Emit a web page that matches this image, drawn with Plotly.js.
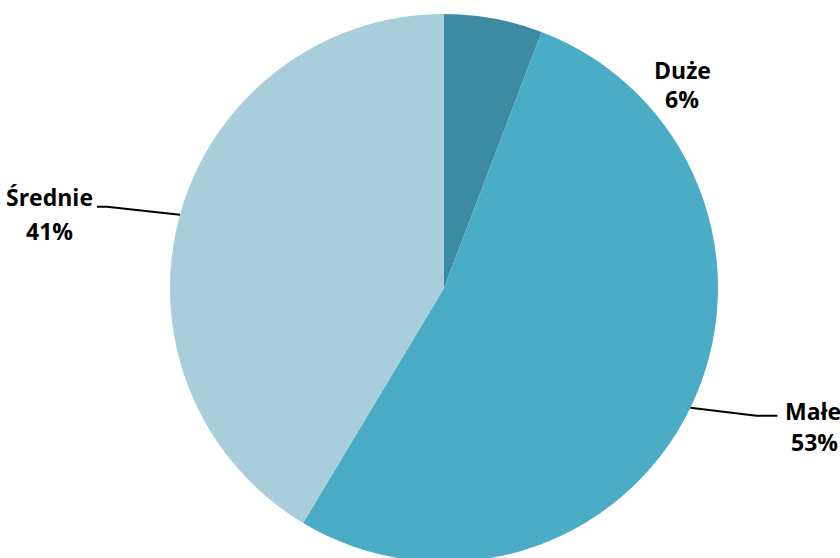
<!DOCTYPE html>
<html><head><meta charset="utf-8">
<script src="https://cdn.plot.ly/plotly-3.0.1.min.js"></script>
<style>html,body{margin:0;padding:0;overflow:hidden;background:#fff}#chart{width:840px;height:562px}</style>
</head><body><div id="chart"></div>
<script>
const labels = ["Duże", "Małe", "Średnie"];
const values = [5.8, 52.8, 41.4];
const colors = ["#3d8ba2", "#4aacc5", "#a8cedc"];

const W = 840, H = 562;
const M = {l: 170, r: 122, t: 14, b: 0};
const pw = W - M.l - M.r, ph = H - M.t - M.b;
const cx = M.l + pw / 2, cy = M.t + ph / 2, R = Math.min(pw, ph) / 2;
const toX = px => (px - M.l) / pw;
const toY = py => 1 - (py - M.t) / ph;

const total = values.reduce((a, b) => a + b, 0);
let cum = 0;
const mids = values.map(v => { const m = (cum + v / 2) / total; cum += v; return m * 2 * Math.PI; });
const pt = (a, r) => [cx + r * Math.sin(a), cy - r * Math.cos(a)];

// label placement offsets relative to slice edge point (layout only)
const labelPos = [
  {nx: 188.5, ny: 51.5, px: 188.5, py: 80, line: null},
  {nx: 123, ny: 3.5, px: 124, py: 34, line: {ex: 66, ey: 8, hx: 87}},
  {nx: -130, ny: -18, px: -130, py: 16.5, line: {ex: -73, ey: -8, hx: -83}}
];
const font = {family: "'Open Sans', sans-serif", size: 23, color: "#000"};

const annotations = [], shapes = [];
values.forEach((v, i) => {
  const [x0, y0] = pt(mids[i], R);
  const p = labelPos[i];
  const pct = Math.round(v / total * 100) + "%";
  annotations.push({xref: "paper", yref: "paper", x: toX(x0 + p.nx), y: toY(y0 + p.ny),
    text: "<b>" + labels[i] + "</b>", showarrow: false, xanchor: "center", yanchor: "middle", font: font});
  annotations.push({xref: "paper", yref: "paper", x: toX(x0 + p.px), y: toY(y0 + p.py),
    text: "<b>" + pct + "</b>", showarrow: false, xanchor: "center", yanchor: "middle", font: font});
  if (p.line) {
    const L = p.line;
    const path = "M" + toX(x0) + "," + toY(y0) + " L" + toX(x0 + L.ex) + "," + toY(y0 + L.ey) + " L" + toX(x0 + L.hx) + "," + toY(y0 + L.ey);
    shapes.push({type: "path", xref: "paper", yref: "paper", path: path, line: {color: "#000", width: 2}});
  }
});

Plotly.newPlot("chart", [{
  type: "pie", labels: labels, values: values, sort: false, direction: "clockwise",
  marker: {colors: colors, line: {width: 0}}, textinfo: "none", hoverinfo: "none",
  showlegend: false
}], {
  width: W, height: H, margin: M, paper_bgcolor: "#fff", plot_bgcolor: "#fff",
  annotations: annotations, shapes: shapes, showlegend: false
}, {displayModeBar: false, staticPlot: true});
</script></body></html>
